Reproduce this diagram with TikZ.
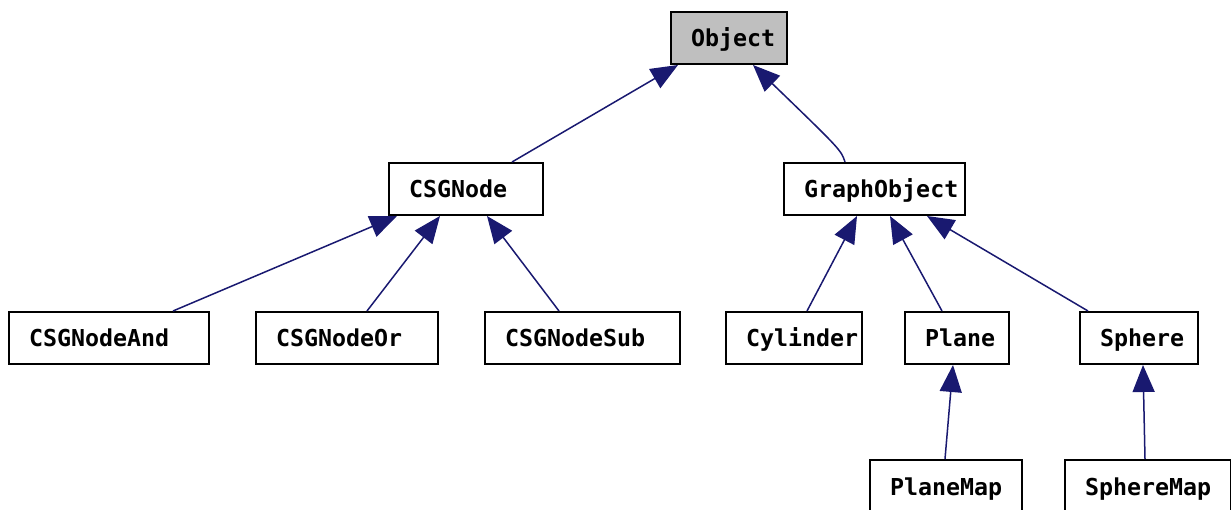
\documentclass[tikz,border=0pt]{standalone}
\usepackage{fontspec}
\setmonofont{DejaVu Sans Mono}
\usetikzlibrary{arrows.meta}
\definecolor{edgeblue}{RGB}{25,25,112}
\definecolor{objgray}{RGB}{191,191,191}
\tikzset{
  cls/.style={draw=black, line width=2pt, fill=white, anchor=north west, inner xsep=20pt, inner ysep=0pt,
    minimum height=52pt, text height=20pt, text depth=2pt, align=left, font=\ttfamily\bfseries\fontsize{23.3}{25}\selectfont},
  edge/.style={draw=edgeblue, line width=1.5pt, -{Triangle[length=27pt,width=22pt]}},
}
\begin{document}
\begin{tikzpicture}[x=1pt,y=-1pt]
\useasboundingbox (0,0) rectangle (1231,510);
\node[cls, fill=objgray, text width=76pt] (obj) at (670,11) {Object};
\node[cls, text width=114pt] (csg) at (388,162) {CSGNode};
\node[cls, text width=141pt] (go) at (783,162) {GraphObject};
\node[cls, text width=160pt] (and) at (8,311) {CSGNodeAnd};
\node[cls, text width=142pt] (or) at (255,311) {CSGNodeOr};
\node[cls, text width=155pt] (sub) at (484,311) {CSGNodeSub};
\node[cls, text width=96pt] (cyl) at (725,311) {Cylinder};
\node[cls, text width=64pt] (plane) at (904,311) {Plane};
\node[cls, text width=78pt] (sphere) at (1079,311) {Sphere};
\node[cls, text width=112pt] (pmap) at (869,459) {PlaneMap};
\node[cls, text width=126pt] (smap) at (1064,459) {SphereMap};

\draw[edge] ([xshift=124pt]csg.north west) -- ([xshift=8pt]obj.south west);
\draw[edge] ([xshift=62pt]go.north west) .. controls ([xshift=58pt,yshift=12pt]go.north west) .. ([xshift=83pt]obj.south west);
\draw[edge] ([xshift=165pt]and.north west) -- ([xshift=9pt]csg.south west);
\draw[edge] ([xshift=112pt]or.north west) -- ([xshift=52pt]csg.south west);
\draw[edge] ([xshift=75pt]sub.north west) -- ([xshift=99pt]csg.south west);
\draw[edge] ([xshift=82pt]cyl.north west) -- ([xshift=74pt]go.south west);
\draw[edge] ([xshift=38pt]plane.north west) -- ([xshift=107pt]go.south west);
\draw[edge] ([xshift=9pt]sphere.north west) -- ([xshift=144pt]go.south west);
\draw[edge] ([xshift=76pt]pmap.north west) -- ([xshift=49pt]plane.south west);
\draw[edge] ([xshift=81pt]smap.north west) -- ([xshift=64pt]sphere.south west);
\end{tikzpicture}
\end{document}
